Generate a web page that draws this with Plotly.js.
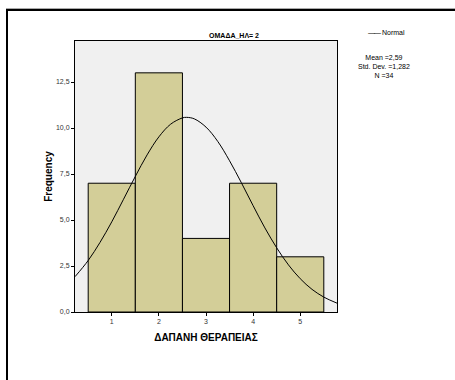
<!DOCTYPE html>
<html>
<head>
<meta charset="utf-8">
<script src="https://cdn.plot.ly/plotly-3.0.1.min.js"></script>
<style>
html,body{margin:0;padding:0;background:#fff;}
#wrap{position:relative;width:455px;height:380px;overflow:hidden;}
#chart{position:absolute;left:0;top:0;width:455px;height:380px;}
#frame{position:absolute;left:6px;top:9px;width:460px;height:380px;border-top:2px solid #000;border-left:2px solid #000;box-shadow:0 -1px 0 #aaa;pointer-events:none;}
</style>
</head>
<body>
<div id="wrap"><div id="chart"></div><div id="frame"></div></div>
<script>
// Histogram data
const binCenters = [1, 2, 3, 4, 5];
const frequencies = [7, 13, 4, 7, 3];
// Normal curve (Mean 2,59, Std. Dev. 1,282, N 34)
const curveX = [0.22, 0.5, 0.75, 1.0, 1.25, 1.5, 1.75, 2.0, 2.25, 2.5, 2.59, 2.75, 3.0, 3.25, 3.5, 3.75, 4.0, 4.25, 4.5, 4.75, 5.0, 5.25, 5.5, 5.78];
const curveY = [1.92, 2.80, 3.78, 4.90, 6.13, 7.37, 8.54, 9.52, 10.21, 10.55, 10.58, 10.50, 10.05, 9.27, 8.22, 7.03, 5.78, 4.57, 3.49, 2.56, 1.81, 1.23, 0.81, 0.48];
const xTicks = [1, 2, 3, 4, 5];
const yTicks = [0, 2.5, 5, 7.5, 10, 12.5];
const statsLines = ['Mean =2,59', 'Std. Dev. =1,282', 'N =34'];
const curveName = 'Normal';

const F = 'Arial, Liberation Sans, sans-serif';

const traces = [
  {
    type: 'bar', x: binCenters, y: frequencies, width: 1,
    marker: {color: '#d3ce98', line: {color: '#000', width: 1}},
    showlegend: false, hoverinfo: 'skip'
  },
  {
    type: 'scatter', mode: 'lines', x: curveX, y: curveY,
    line: {color: '#000', width: 1, shape: 'spline'},
    name: curveName, showlegend: false
  }
];

const layout = {
  width: 455, height: 380,
  margin: {l: 75, r: 118, t: 41, b: 68},
  paper_bgcolor: '#fff', plot_bgcolor: '#f0f0f0',
  separators: ',.',
  font: {family: F, size: 8, color: '#000'},
  title: {text: '<b>ΟΜΑΔΑ_ΗΛ= 2</b>', font: {family: F, size: 7, color: '#000'},
          x: 0.607, xref: 'paper', xanchor: 'center', y: 1, yref: 'paper', yanchor: 'bottom', pad: {b: 3}},
  xaxis: {
    range: [0.22, 5.78], tickvals: xTicks, ticks: 'outside', ticklen: 3, tickcolor: '#000',
    showgrid: false, zeroline: false, showline: true, linecolor: '#000', linewidth: 1, mirror: true,
    tickfont: {family: F, size: 7, color: '#333'},
    title: {text: '<b>ΔΑΠΑΝΗ ΘΕΡΑΠΕΙΑΣ</b>', font: {family: F, size: 10, color: '#000'}, standoff: 9}
  },
  yaxis: {
    range: [0, 14.73], tickvals: yTicks, tickformat: '.1f', ticks: 'outside', ticklen: 3, tickcolor: '#000',
    showgrid: false, zeroline: false, showline: true, linecolor: '#000', linewidth: 1, mirror: true,
    tickfont: {family: F, size: 7, color: '#333'},
    title: {text: '<b>Frequency</b>', font: {family: F, size: 10, color: '#000'}, standoff: 1}
  },
  annotations: [
    {
      xref: 'paper', yref: 'paper', x: 1.109, y: 1.033, xanchor: 'left', yanchor: 'middle',
      text: '<span style="letter-spacing:-1px">——</span> ' + curveName, showarrow: false, align: 'left',
      font: {family: F, size: 7, color: '#000'}
    },
    {
      xref: 'paper', yref: 'paper', x: 1.18, y: 0.96, xanchor: 'center', yanchor: 'top',
      text: statsLines.join('<br>'), showarrow: false, align: 'center',
      font: {family: F, size: 7, color: '#000'}
    }
  ],
  bargap: 0
};

Plotly.newPlot('chart', traces, layout, {displayModeBar: false, staticPlot: true});
</script>
</body>
</html>
